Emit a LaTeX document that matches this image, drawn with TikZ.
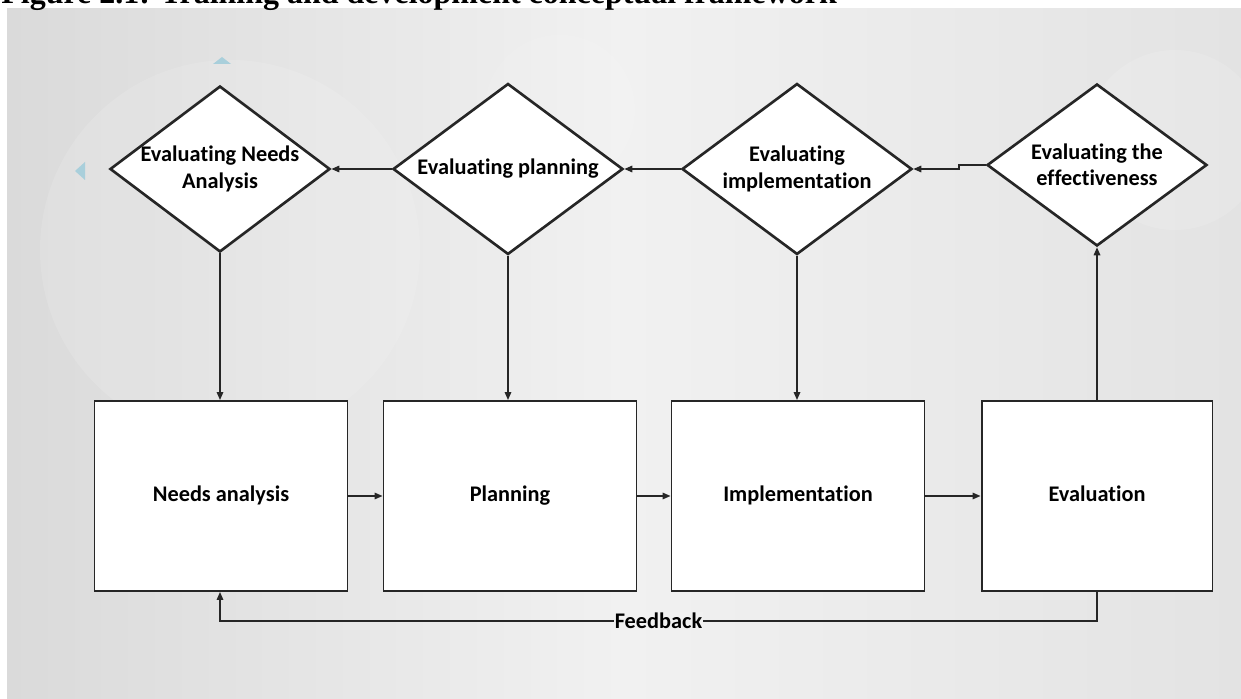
\documentclass[tikz,border=0pt]{standalone}
\usepackage{fontspec}
\setmainfont{Carlito}[Ligatures=NoCommon]
\newfontfamily\capfont{Liberation Serif}
\usepackage{tikz}
\usetikzlibrary{shapes.geometric,arrows.meta}
\definecolor{ink}{HTML}{262626}
\definecolor{panelL}{HTML}{DADADA}
\definecolor{panelM}{HTML}{F1F1F1}
\definecolor{panelR}{HTML}{E3E3E3}
\definecolor{tick}{HTML}{A9CFDB}
\tikzset{
  stage/.style={draw=ink, fill=white, line width=1.1pt, minimum width=5.06cm,
    minimum height=3.8cm, inner sep=0pt, text height=9pt, text depth=3pt,
    font=\bfseries\fontsize{12.7}{15}\selectfont},
  check/.style={diamond, draw=ink, fill=white, line width=1.5pt, aspect=1.35,
    inner sep=0pt, align=center, font=\bfseries\fontsize{12.7}{15}\selectfont},
  flow/.style={draw=ink, line width=0.9pt, -{Triangle[length=1.6mm,width=1.3mm]}},
  labf/.style={fill=panelM, inner sep=0.5pt, font=\bfseries\fontsize{12.7}{15}\selectfont}
}

\begin{document}
\begin{tikzpicture}[x=0.02cm, y=-0.02cm]
  \useasboundingbox (0,0) rectangle (1241,699);

  % backdrop
  \shade[left color=panelL, right color=panelR, middle color=panelM] (7,9) rectangle (1241,699);
  \fill[white, opacity=0.12] (230,250) circle (190);
  \fill[white, opacity=0.12] (1175,140) circle (90);
  \fill[white, opacity=0.10] (560,110) circle (75);
  \fill[tick] (213,64) -- (231,64) -- (222,57) -- cycle;
  \fill[tick] (85,162) -- (85,180) -- (75,171) -- cycle;

  % stages
  \node[stage] (need) at (221,496) {Needs analysis};
  \node[stage] (plan) at (510,496) {Planning};
  \node[stage] (impl) at (798,496) {Implementation};
  \node[stage, minimum width=4.62cm] (eval) at (1097,496) {Evaluation};

  % evaluation checks
  \node[check, minimum width=4.4cm, minimum height=3.32cm] (evneed) at (220,169) {Evaluating Needs\\Analysis};
  \node[check, minimum width=4.6cm, minimum height=3.42cm] (evplan) at (508,169) {Evaluating planning};
  \node[check, minimum width=4.6cm, minimum height=3.42cm] (evimpl) at (797,169) {Evaluating\\implementation};
  \node[check, minimum width=4.4cm, minimum height=3.24cm] (eveff) at (1097,165) {Evaluating the\\effectiveness};

  % connectors
  \draw[flow] (need) -- (plan);
  \draw[flow] (plan) -- (impl);
  \draw[flow] (impl) -- (eval);
  \draw[flow] (evneed.south) -- (need.north -| evneed.south);
  \draw[flow] (evplan.south) -- (plan.north -| evplan.south);
  \draw[flow] (evimpl.south) -- (impl.north -| evimpl.south);
  \draw[flow] (eval.north -| eveff.south) -- (eveff.south);
  \draw[flow] (eveff.west) -- ++(-27,0) |- (evimpl.east);
  \draw[flow] (evimpl.west) -- (evplan.east);
  \draw[flow] (evplan.west) -- (evneed.east);
  \draw[flow] (eval.south) -- ++(0,29) -| node[labf, pos=0.25] (fb) {Feedback} (need.south -| evneed.south);

  % caption, cut off by the top edge as in the scan
  \node[anchor=base west, inner sep=0pt, font=\capfont\bfseries\fontsize{18.2}{20}\selectfont] (cap) at (1,4)
    {Figure 2.1: Training and development conceptual framework};
\end{tikzpicture}
\end{document}
